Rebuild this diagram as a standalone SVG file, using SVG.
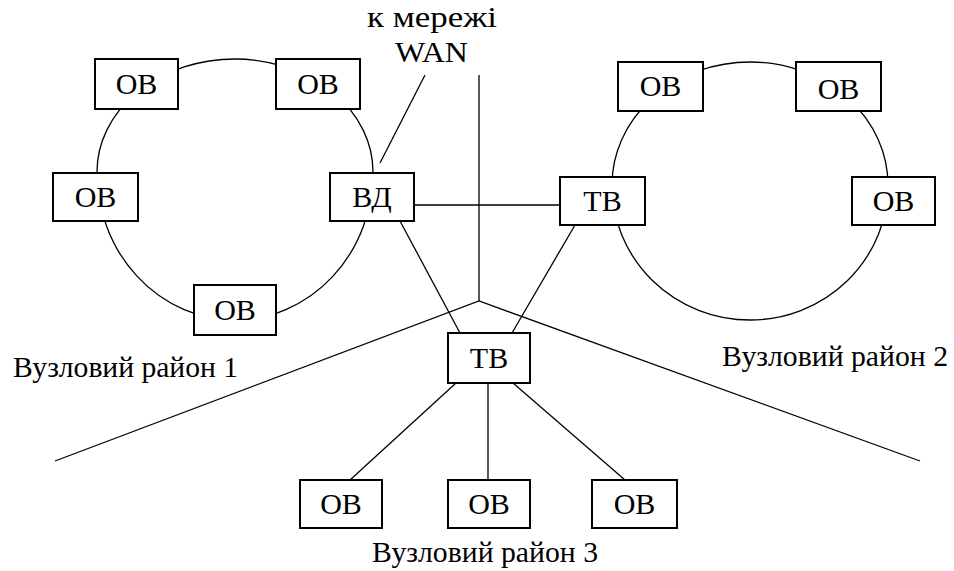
<svg xmlns="http://www.w3.org/2000/svg" width="954" height="571" viewBox="0 0 954 571">
  <style>
    .box { fill: #fff; stroke: #000; stroke-width: 2; }
    .lbl { font-family: "Liberation Serif", "Times New Roman", serif; font-size: 30px; fill: #000; text-anchor: middle; }
    .cap { font-family: "Liberation Serif", "Times New Roman", serif; font-size: 29px; fill: #000; }
    .wire { fill: none; stroke: #000; stroke-width: 1.3; }
  </style>
  <rect width="954" height="571" fill="#fff"/>

  <!-- connectors -->
  <g id="connectors">
    <!-- ring of district 1 -->
    <path class="wire" d="M 97 172 A 138 113 0 0 1 373 172 A 138 148 0 0 1 97 172 Z"/>
    <!-- ring of district 2 -->
    <path class="wire" d="M 612 185 A 138 123 0 0 1 888 185 A 138 135 0 0 1 612 185 Z"/>
    <!-- WAN uplinks -->
    <line class="wire" x1="425" y1="75" x2="380" y2="163"/>
    <line class="wire" x1="479" y1="75" x2="479" y2="301"/>
    <line class="wire" x1="414" y1="205" x2="560" y2="205"/>
    <!-- district borders -->
    <polyline class="wire" points="55,461 479,301 920,461"/>
    <!-- links to the central hub -->
    <line class="wire" x1="400" y1="221" x2="460" y2="333"/>
    <line class="wire" x1="575" y1="225" x2="512" y2="333"/>
    <line class="wire" x1="456" y1="383" x2="350" y2="480"/>
    <line class="wire" x1="488" y1="383" x2="488" y2="480"/>
    <line class="wire" x1="513" y1="383" x2="625" y2="480"/>
  </g>

  <!-- district 1 -->
  <g id="ov-1a"><rect class="box" x="95" y="59" width="83" height="50"/><text class="lbl" x="136.5" y="94">ОВ</text></g>
  <g id="ov-1b"><rect class="box" x="276" y="59" width="84" height="50"/><text class="lbl" x="318" y="94">ОВ</text></g>
  <g id="ov-1c"><rect class="box" x="53" y="173" width="85" height="48"/><text class="lbl" x="95.5" y="207">ОВ</text></g>
  <g id="vd"><rect class="box" x="330" y="173" width="84" height="48"/><text class="lbl" x="372" y="207">ВД</text></g>
  <g id="ov-1d"><rect class="box" x="194" y="285" width="82" height="50"/><text class="lbl" x="235" y="320">ОВ</text></g>

  <!-- district 2 -->
  <g id="ov-2a"><rect class="box" x="618" y="62" width="85" height="49"/><text class="lbl" x="660.5" y="96">ОВ</text></g>
  <g id="ov-2b"><rect class="box" x="796" y="62" width="85" height="49"/><text class="lbl" x="838.5" y="99">ОВ</text></g>
  <g id="tv-2"><rect class="box" x="560" y="177" width="85" height="48"/><text class="lbl" x="602.5" y="211">ТВ</text></g>
  <g id="ov-2c"><rect class="box" x="852" y="177" width="83" height="48"/><text class="lbl" x="893.5" y="211">ОВ</text></g>

  <!-- district 3 -->
  <g id="tv-3"><rect class="box" x="448" y="333" width="82" height="50"/><text class="lbl" x="489" y="368">ТВ</text></g>
  <g id="ov-3a"><rect class="box" x="300" y="480" width="82" height="48"/><text class="lbl" x="341" y="514">ОВ</text></g>
  <g id="ov-3b"><rect class="box" x="448" y="480" width="82" height="48"/><text class="lbl" x="489" y="514">ОВ</text></g>
  <g id="ov-3c"><rect class="box" x="592" y="480" width="85" height="48"/><text class="lbl" x="634.5" y="514">ОВ</text></g>

  <!-- captions -->
  <g id="captions">
    <text class="cap" x="367" y="27" textLength="130" lengthAdjust="spacingAndGlyphs">к мережі</text>
    <text class="cap" x="395" y="62" textLength="73" lengthAdjust="spacingAndGlyphs">WAN</text>
    <text class="cap" x="13" y="377" textLength="225" lengthAdjust="spacingAndGlyphs">Вузловий район 1</text>
    <text class="cap" x="722" y="366" textLength="226" lengthAdjust="spacingAndGlyphs">Вузловий район 2</text>
    <text class="cap" x="372" y="562" textLength="226" lengthAdjust="spacingAndGlyphs">Вузловий район 3</text>
  </g>
</svg>
